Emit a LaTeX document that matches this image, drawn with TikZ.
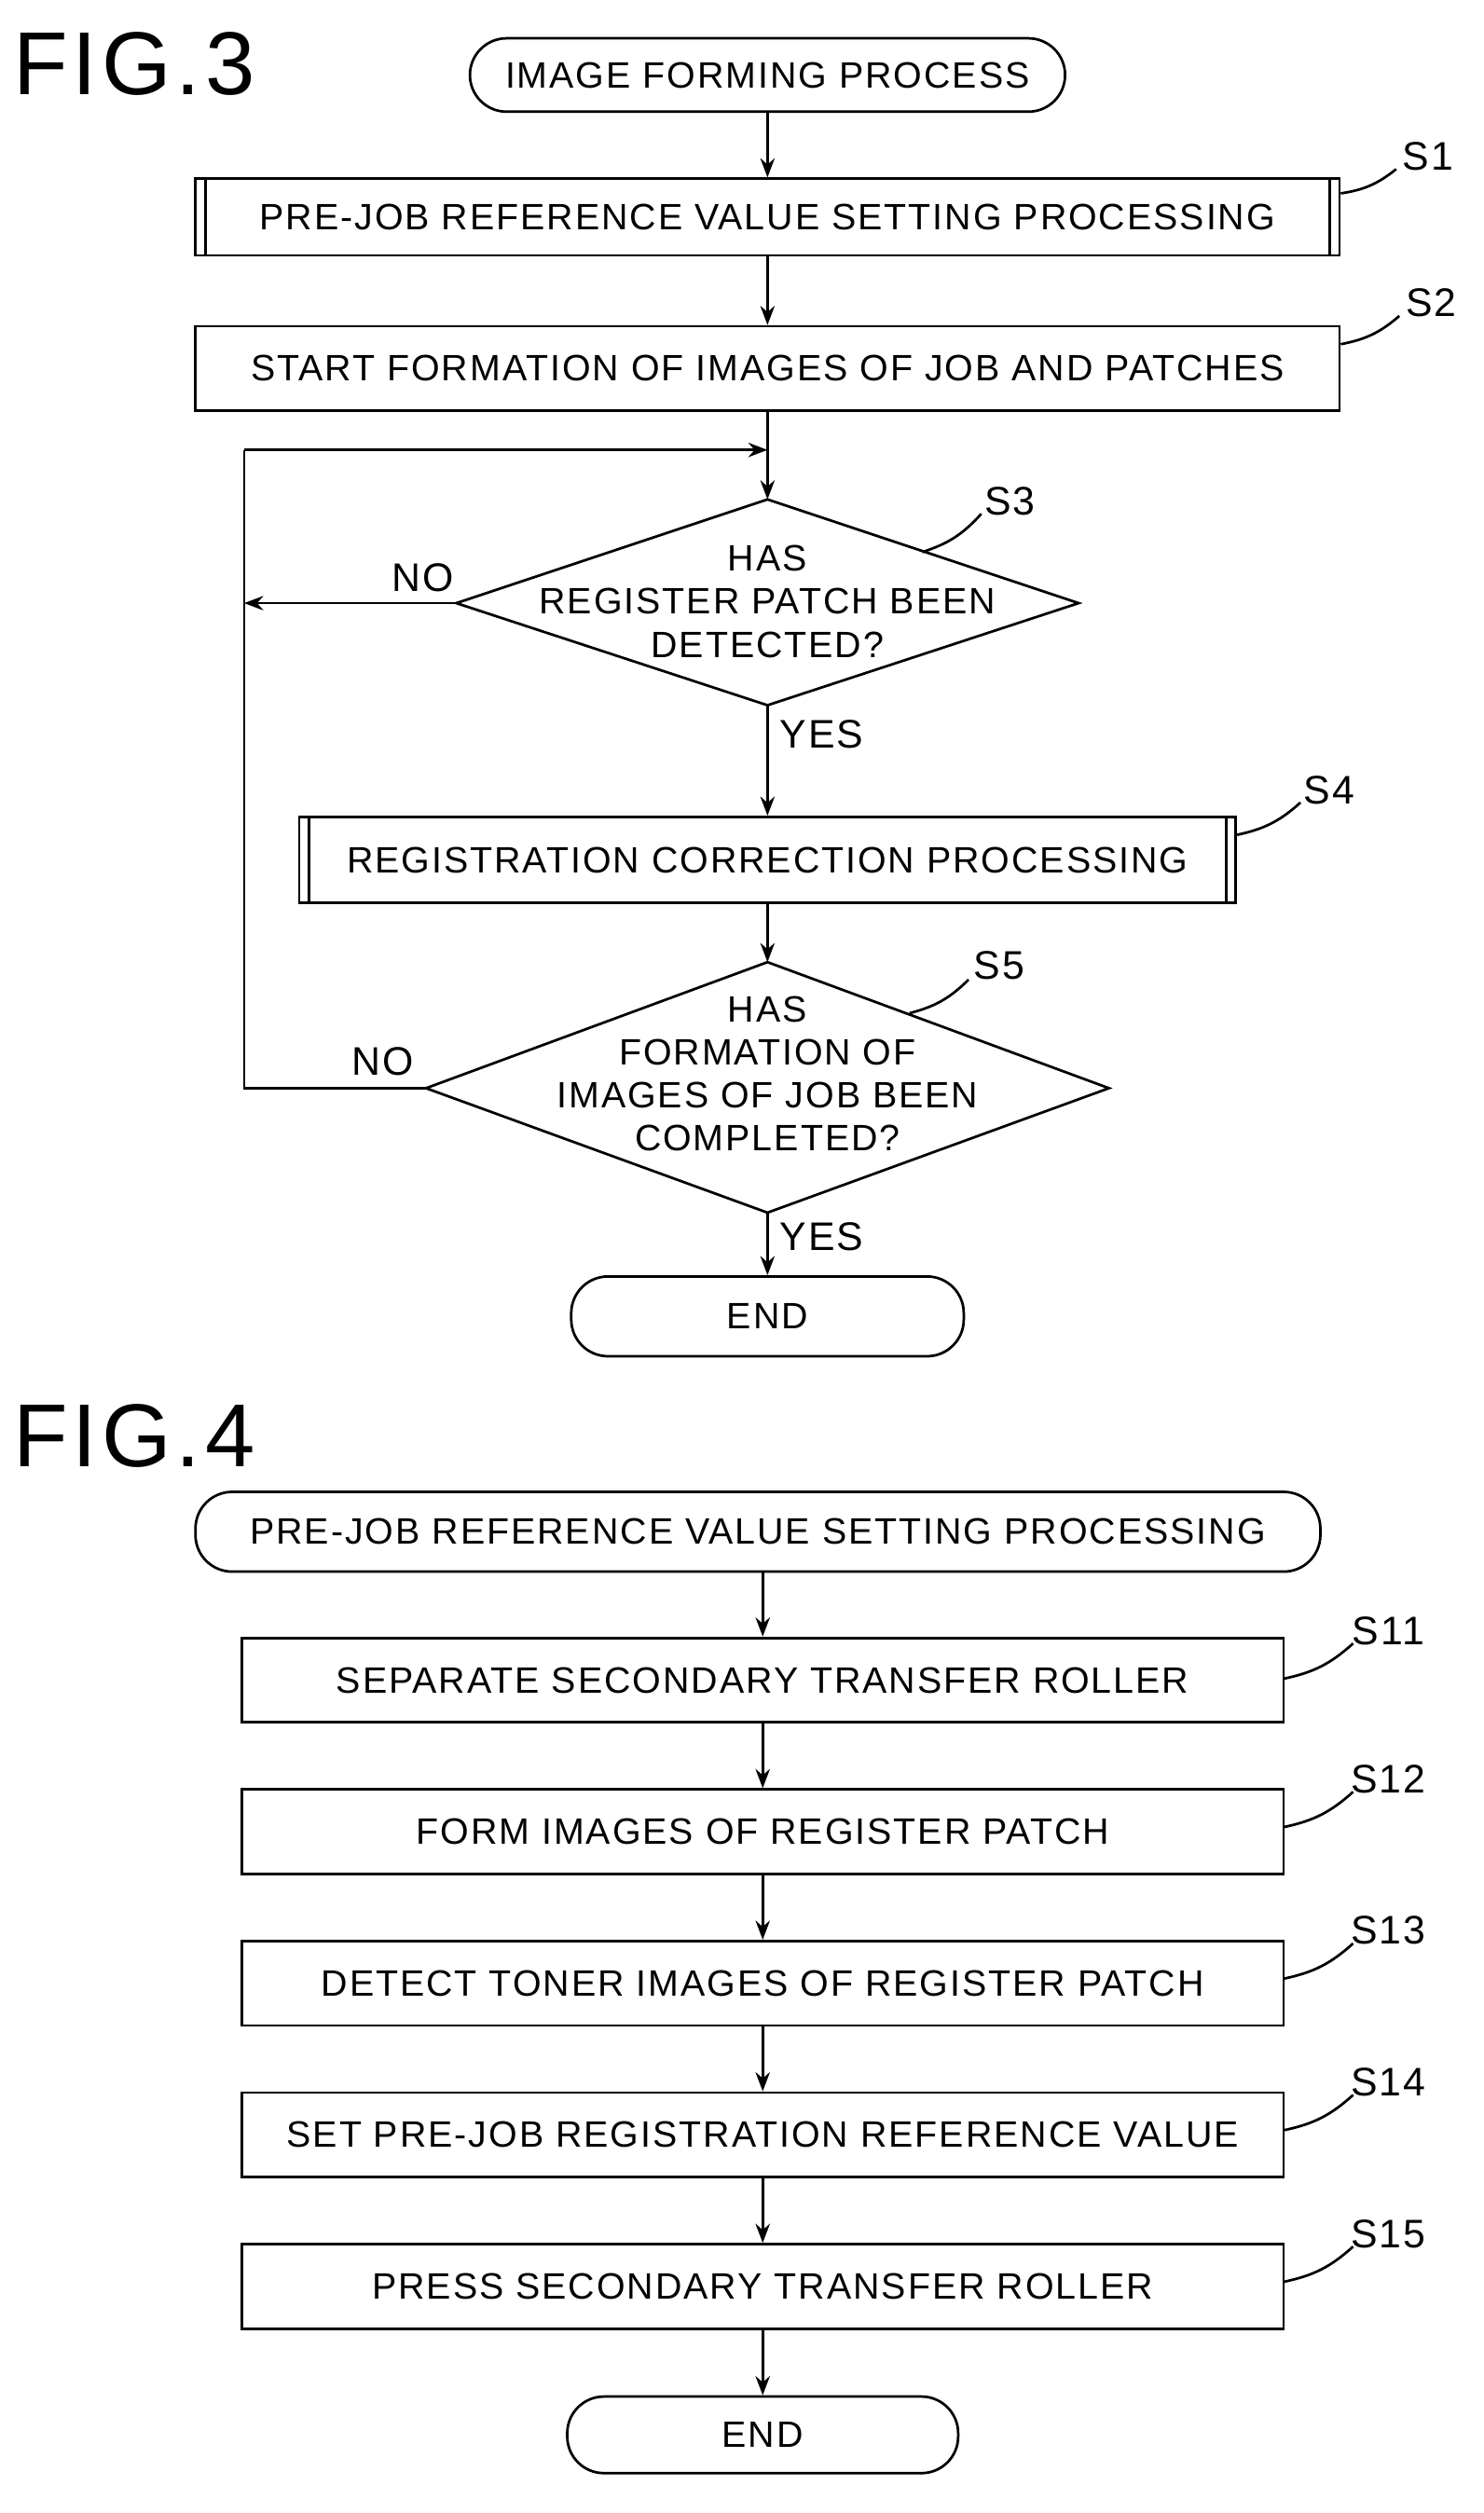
\documentclass[tikz,border=0pt]{standalone}
\usepackage{fontspec}
\setmainfont[LetterSpace=5]{Liberation Sans}
\usetikzlibrary{shapes.geometric,arrows.meta}
\begin{document}
\begin{tikzpicture}[x=1pt,y=-1pt,
  every node/.style={font=\fontsize{23}{27}\selectfont},
  box/.style={draw,line width=1.6pt,minimum height=50pt,inner sep=0pt},
  term/.style={draw,line width=1.6pt,rounded corners=23pt,minimum height=46pt,inner sep=0pt},
  dtext/.style={align=center,inner sep=0pt},
  arr/.style={line width=1.6pt,-{Stealth[length=12pt,width=9pt]}},
  ln/.style={line width=1.6pt},
  lab/.style={font=\fontsize{25}{28}\selectfont},
  fig/.style={font=\fontsize{56}{60}\selectfont,anchor=west}]
\useasboundingbox (0,0) rectangle (930,1575);
\node[fig] (f3) at (5,40) {FIG.3};
\node[term,minimum width=373pt] (st) at (481,47) {IMAGE FORMING PROCESS};
\node[box,minimum width=717pt,minimum height=48pt] (s1) at (481,136) {PRE-JOB REFERENCE VALUE SETTING PROCESSING};
\draw[ln] ([xshift=7pt]s1.north west) -- ([xshift=7pt]s1.south west);
\draw[ln] ([xshift=-7pt]s1.north east) -- ([xshift=-7pt]s1.south east);
\node[box,minimum width=717pt,minimum height=53pt] (s2) at (481,231) {START FORMATION OF IMAGES OF JOB AND PATCHES};
% S3 diamond
\coordinate (s3n) at (481,313); \coordinate (s3s) at (481,442);
\coordinate (s3w) at (286,378); \coordinate (s3e) at (676,378);
\draw[ln] (s3n) -- (s3e) -- (s3s) -- (s3w) -- cycle;
\node[dtext] (s3) at (481,377) {HAS\\REGISTER PATCH BEEN\\DETECTED?};
\node[box,minimum width=587pt,minimum height=54pt] (s4) at (481,539) {REGISTRATION CORRECTION PROCESSING};
\draw[ln] ([xshift=7pt]s4.north west) -- ([xshift=7pt]s4.south west);
\draw[ln] ([xshift=-7pt]s4.north east) -- ([xshift=-7pt]s4.south east);
% S5 diamond
\coordinate (s5n) at (481,603); \coordinate (s5s) at (481,760);
\coordinate (s5w) at (267,682); \coordinate (s5e) at (695,682);
\draw[ln] (s5n) -- (s5e) -- (s5s) -- (s5w) -- cycle;
\node[dtext] (s5) at (481,673) {HAS\\FORMATION OF\\IMAGES OF JOB BEEN\\COMPLETED?};
\node[term,minimum width=246pt,minimum height=50pt] (e1) at (481,825) {END};
\coordinate (j1) at (481,282);
\coordinate (l1) at (153,282);
\coordinate (l2) at (153,378);
\coordinate (l3) at (153,682);
\draw[arr] (st) -- (s1);
\draw[arr] (s1) -- (s2);
\draw[arr] (s2) -- (s3n);
\draw[arr] (s3s) -- (s4);
\draw[arr] (s4) -- (s5n);
\draw[arr] (s5s) -- (e1);
\draw[arr] (s3w) -- (l2);
\draw[ln] (s5w) -- (l3) -- (l1);
\draw[arr] (l1) -- (j1);
\node[lab] at (265,362) {NO};
\node[lab] at (240,665) {NO};
\node[lab] at (515,460) {YES};
\node[lab] at (515,775) {YES};
\node[lab] (t1) at (895,98) {S1};
\node[lab] (t2) at (897,190) {S2};
\node[lab] (t3) at (633,314) {S3};
\node[lab] (t4) at (833,495) {S4};
\node[lab] (t5) at (626,605) {S5};
\draw[ln] (s1.north east) ++(0,10) to[bend right=15] (875,106);
\draw[ln] (s2.north east) ++(0,12) to[bend right=15] (877,198);
\draw[ln] (578,346) to[bend right=15] (615,322);
\draw[ln] (s4.north east) ++(0,12) to[bend right=15] (815,503);
\draw[ln] (570,635) to[bend right=15] (607,614);
\node[fig] (f4) at (5,900) {FIG.4};
\node[term,minimum width=705pt,minimum height=50pt] (st2) at (475,960) {PRE-JOB REFERENCE VALUE SETTING PROCESSING};
\node[box,minimum width=653pt,minimum height=53pt] (b11) at (478,1053) {SEPARATE SECONDARY TRANSFER ROLLER};
\node[box,minimum width=653pt,minimum height=53pt] (b12) at (478,1148) {FORM IMAGES OF REGISTER PATCH};
\node[box,minimum width=653pt,minimum height=53pt] (b13) at (478,1243) {DETECT TONER IMAGES OF REGISTER PATCH};
\node[box,minimum width=653pt,minimum height=53pt] (b14) at (478,1338) {SET PRE-JOB REGISTRATION REFERENCE VALUE};
\node[box,minimum width=653pt,minimum height=53pt] (b15) at (478,1433) {PRESS SECONDARY TRANSFER ROLLER};
\node[term,minimum width=245pt,minimum height=48pt] (e2) at (478,1526) {END};
\draw[arr] (st2.south -| b11.north) -- (b11);
\draw[arr] (b11) -- (b12);
\draw[arr] (b12) -- (b13);
\draw[arr] (b13) -- (b14);
\draw[arr] (b14) -- (b15);
\draw[arr] (b15) -- (e2);
\foreach \n/\y in {11/1022,12/1115,13/1210,14/1305,15/1400}{
  \node[lab] (t\n) at (870,\y) {S\n};
  \draw[ln] (805,\y+30) to[bend right=15] (848,\y+8);
}
\end{tikzpicture}
\end{document}
